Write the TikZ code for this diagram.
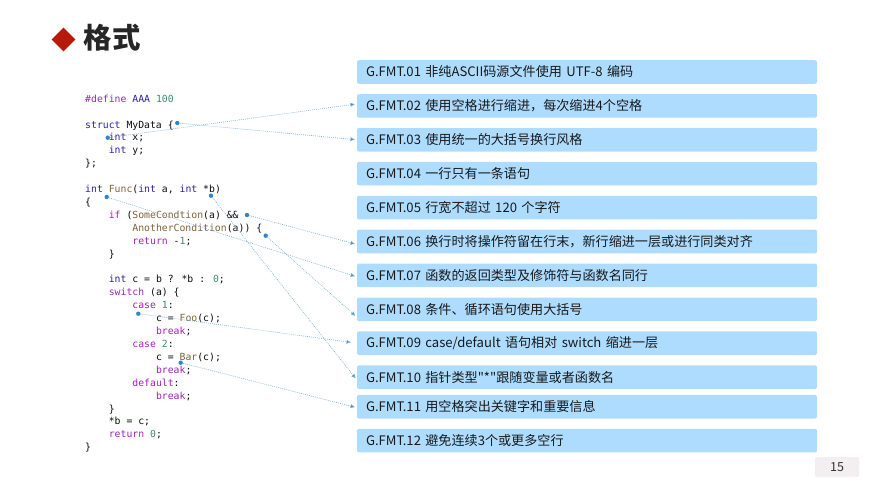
\documentclass[tikz,border=0pt]{standalone}
\usepackage{fontspec}
\usepackage{xcolor}
\usetikzlibrary{arrows.meta, positioning, shapes.geometric}
\setmainfont{Noto Sans CJK SC}
\newfontfamily\codefont{DejaVu Sans Mono}
\newfontfamily\plainfont{Noto Sans CJK SC}

\definecolor{ruleblue}{HTML}{ADDCFF}
\definecolor{linkblue}{HTML}{2F86C6}
\definecolor{titlered}{HTML}{B81A0A}
\definecolor{pagegrey}{HTML}{F3EFF0}
\definecolor{kwblue}{HTML}{2A1FA8}
\definecolor{ctlpurple}{HTML}{A021B8}
\definecolor{fnbrown}{HTML}{7D6238}
\definecolor{numgreen}{HTML}{3B8C6E}

\newcommand{\kw}[1]{\textcolor{kwblue}{#1}}
\newcommand{\ctl}[1]{\textcolor{ctlpurple}{#1}}
\newcommand{\fn}[1]{\textcolor{fnbrown}{#1}}
\newcommand{\num}[1]{\textcolor{numgreen}{#1}}

\tikzset{
	rulebox/.style={fill=ruleblue, rounded corners=2pt, minimum height=23.6pt, text width=442pt, outer sep=0pt,
		inner xsep=9pt, inner ysep=0pt, align=left, font=\plainfont\fontsize{13.1}{14}\selectfont, text=black!90},
	linkdot/.style={circle, fill=linkblue, inner sep=0pt, minimum size=4.4pt},
	linkline/.style={draw=linkblue!65, line width=.6pt, dash pattern=on .9pt off 1.1pt,
		-{Latex[length=4.5pt, width=4.2pt, fill=linkblue]}, shorten >=2pt},
}

\begin{document}
\begin{tikzpicture}[x=1pt, y=-1pt, node distance=10.3pt]

\useasboundingbox (0,0) rectangle (875,494);

\node [diamond, fill=titlered, inner sep=0pt, minimum size=24pt] (mark) at (63.5,39.5) {};
\node [right=8pt of mark, yshift=1.5pt, inner sep=0pt, text=black!85, font=\fontsize{28.4}{30}\selectfont\bfseries] (title) {格式};

\node [anchor=north west, inner sep=0pt, align=left, text=black!95,
	font=\codefont\fontsize{9.8}{12.91}\selectfont] (code) at (85,94.6) {
	\ctl{\#define} \kw{AAA} \num{100} \\
	\strut \\
	\kw{struct} MyData \{ \\
	~~~~\kw{int} x; \\
	~~~~\kw{int} y; \\
	\}; \\
	\strut \\
	\kw{int} \fn{Func}(\kw{int} a, \kw{int} *b) \\
	\{ \\
	~~~~\ctl{if} (\fn{SomeCondtion}(a) \&\& \\
	~~~~~~~~\fn{AnotherCondition}(a)) \{ \\
	~~~~~~~~\ctl{return} -\num{1}; \\
	~~~~\} \\
	\strut \\
	~~~~\kw{int} c = b ? *b : \num{0}; \\
	~~~~\ctl{switch} (a) \{ \\
	~~~~~~~~\ctl{case} \num{1}: \\
	~~~~~~~~~~~~c = \fn{Foo}(c); \\
	~~~~~~~~~~~~\ctl{break}; \\
	~~~~~~~~\ctl{case} \num{2}: \\
	~~~~~~~~~~~~c = \fn{Bar}(c); \\
	~~~~~~~~~~~~\ctl{break}; \\
	~~~~~~~~\ctl{default}: \\
	~~~~~~~~~~~~\ctl{break}; \\
	~~~~\} \\
	~~~~*b = c; \\
	~~~~\ctl{return} \num{0}; \\
	\}
};

\node [rulebox, anchor=north west] (fmt01) at (357,60.2) {G.FMT.01 非纯ASCII码源文件使用 UTF-8 编码};
\node [rulebox, below=of fmt01] (fmt02) {G.FMT.02 使用空格进行缩进，每次缩进4个空格};
\node [rulebox, below=of fmt02] (fmt03) {G.FMT.03 使用统一的大括号换行风格};
\node [rulebox, below=of fmt03] (fmt04) {G.FMT.04 一行只有一条语句};
\node [rulebox, below=of fmt04] (fmt05) {G.FMT.05 行宽不超过 120 个字符};
\node [rulebox, below=of fmt05] (fmt06) {G.FMT.06 换行时将操作符留在行末，新行缩进一层或进行同类对齐};
\node [rulebox, below=of fmt06] (fmt07) {G.FMT.07 函数的返回类型及修饰符与函数名同行};
\node [rulebox, below=of fmt07] (fmt08) {G.FMT.08 条件、循环语句使用大括号};
\node [rulebox, below=of fmt08] (fmt09) {G.FMT.09 case/default 语句相对 switch 缩进一层};
\node [rulebox, below=of fmt09] (fmt10) {G.FMT.10 指针类型"*"跟随变量或者函数名};
\node [rulebox, below=6pt of fmt10] (fmt11) {G.FMT.11 用空格突出关键字和重要信息};
\node [rulebox, below=of fmt11] (fmt12) {G.FMT.12 避免连续3个或更多空行};

\node [fill=pagegrey, rounded corners=2pt, minimum width=44pt, minimum height=20pt, inner sep=0pt,
	text=black!80, font=\fontsize{12.5}{14}\selectfont] (page) at (837,467) {15};

\node [linkdot] (intx) at (107.7,137.7) {};
\node [linkdot] (brace) at (177.3,123) {};
\node [linkdot] (func) at (106.7,197) {};
\node [linkdot] (ptr) at (211,195.7) {};
\node [linkdot] (andand) at (247,215) {};
\node [linkdot] (ifbrace) at (265.7,235.7) {};
\node [linkdot] (casea) at (138.3,313.7) {};
\node [linkdot] (bar) at (180.7,362.7) {};

\path [linkline] (intx) -- ([yshift=2pt]fmt02.west);
\path [linkline] (brace) -- (fmt03.west);
\path [linkline] (func) -- ([yshift=-1.5pt]fmt07.west);
\path [linkline] (ptr) -- ([yshift=-3pt]fmt10.west);
\path [linkline] (andand) -- ([yshift=-3pt]fmt06.west);
\path [linkline] (ifbrace) -- ([yshift=-8pt]fmt08.west);
\path [linkline, shorten >=6pt] (casea) -- (fmt09.west);
\path [linkline] (bar) -- ([yshift=-1pt]fmt11.west);

\end{tikzpicture}
\end{document}
